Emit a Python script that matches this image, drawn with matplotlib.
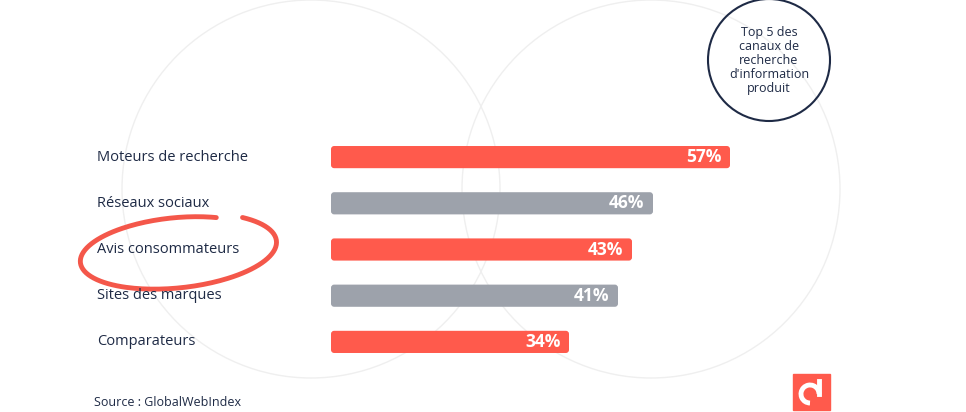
import numpy as np
import matplotlib.pyplot as plt
from matplotlib.patches import Circle, Arc, Rectangle, FancyBboxPatch
import matplotlib.transforms as mtransforms

categories = ['Moteurs de recherche', 'Réseaux sociaux', 'Avis consommateurs',
              'Sites des marques', 'Comparateurs']
values = [57, 46, 43, 41, 34]
bar_colors = ['#FF5A4C', '#9DA2AB', '#FF5A4C', '#9DA2AB', '#FF5A4C']

navy = '#1E2A45'
W, H = 966, 412
plt.rcParams['font.family'] = ['Open Sans', 'DejaVu Sans']

fig = plt.figure(figsize=(W / 100, H / 100), dpi=100)

# decoration layer in pixel coordinates
bg = fig.add_axes([0, 0, 1, 1])
bg.set_xlim(0, W)
bg.set_ylim(H, 0)
bg.set_aspect('equal')
bg.axis('off')
for cx in (311, 651):
    bg.add_patch(Circle((cx, 189), 189, fill=False, ec='#EFEFEF', lw=1))
bg.add_patch(Circle((769, 60), 61, fill=False, ec=navy, lw=1.5))
bg.text(769, 60, "Top 5 des\ncanaux de\nrecherche\nd'information\nproduit",
        ha='center', va='center', fontsize=9, color=navy, linespacing=1.1)

# hand-drawn circle around "Avis consommateurs"
t = np.linspace(np.radians(62), np.radians(62 + 345), 200)
r = 1 + 0.1 * (t - t[0]) / (t[-1] - t[0])
rx, ry, rot = 93 * r, 34 * r, np.radians(-6)
ex, ey = rx * np.cos(t), -ry * np.sin(t)
xs = 176 + ex * np.cos(rot) - ey * np.sin(rot)
ys = 252 + ex * np.sin(rot) + ey * np.cos(rot)
bg.plot(xs[::-1], ys[::-1], color='#F4574A', lw=3.5, solid_capstyle='round')

# logo
bg.add_patch(Rectangle((793, 374), 37, 36, color='#FF5A4C'))
bg.add_patch(Arc((810, 394), 18, 18, theta1=90, theta2=360, color='white', lw=3.5))
bg.plot([819, 819], [381, 394], color='white', lw=3.5)

# bar chart
ax = fig.add_axes([331 / W, (H - 365) / H, 630 / W, 231 / H])
ax.patch.set_alpha(0)
y = np.arange(len(categories))
bars = ax.barh(y, values, height=0.48, color=bar_colors)
ax.set_xlim(0, 90)
ax.set_ylim(len(categories) - 0.5, -0.5)
ax.axis('off')

# rounded corners on each bar
for b in bars:
    b.set_visible(False)
    ax.add_patch(FancyBboxPatch((b.get_x(), b.get_y()), b.get_width(), b.get_height(),
                                boxstyle='round,pad=0,rounding_size=0.45',
                                mutation_aspect=7 / 46.2, fc=b.get_facecolor(), ec='none'))

for b, v in zip(bars, values):
    ax.text(b.get_width() - 1.2, b.get_y() + b.get_height() / 2, f'{v}%',
            ha='right', va='center', color='white', fontsize=12.5, fontweight='bold')

trans = mtransforms.blended_transform_factory(fig.transFigure, ax.transData)
for yi, c in zip(y, categories):
    ax.text(97 / W, yi, c, transform=trans, ha='left', va='center',
            fontsize=10.5, color=navy)

fig.text(94 / W, 1 - 403 / H, 'Source : GlobalWebIndex', fontsize=9,
         color=navy, va='center')

fig.savefig('out.png', dpi=100, facecolor='white')
